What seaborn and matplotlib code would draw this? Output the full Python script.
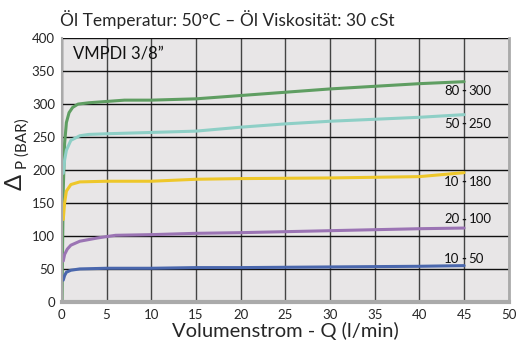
import numpy as np
import pandas as pd
import seaborn as sns
import matplotlib.pyplot as plt

q_80_300 = [0, 0.15, 0.3, 0.5, 0.8, 1.2, 1.8, 3, 5, 7, 10, 15, 20, 25, 30, 35, 40, 45]
p_80_300 = [0, 170, 240, 272, 287, 295, 300, 302, 304, 306, 306, 308, 313, 318, 323, 327, 331, 334]

q_50_250 = [0.15, 0.3, 0.5, 1, 2, 3, 5, 10, 15, 20, 25, 30, 35, 40, 45]
p_50_250 = [195, 215, 230, 245, 252, 254, 255, 257, 259, 265, 270, 274, 277, 280, 284]

q_10_180 = [0.15, 0.3, 0.5, 1, 2, 5, 10, 15, 20, 30, 40, 45]
p_10_180 = [125, 150, 168, 178, 182, 183, 183, 186, 187, 188, 190, 196]

q_20_100 = [0.15, 0.3, 0.6, 1, 2, 4, 6, 10, 15, 20, 30, 40, 45]
p_20_100 = [62, 72, 80, 86, 92, 97, 101, 102, 104, 105, 108, 111, 112]

q_10_50 = [0.15, 0.3, 0.5, 1, 2, 5, 10, 15, 20, 30, 40, 45]
p_10_50 = [33, 40, 45, 48, 50, 51, 51, 52, 52, 53, 54, 55]

series = ['80 - 300', '50 - 250', '10 - 180', '20 - 100', '10 - 50']
colors = ['#5f9e62', '#8ecfc6', '#eec72a', '#9b74b4', '#4a67ad']
qs = [q_80_300, q_50_250, q_10_180, q_20_100, q_10_50]
ps = [p_80_300, p_50_250, p_10_180, p_20_100, p_10_50]

df = pd.concat([pd.DataFrame({'Q': q, 'P': p, 'serie': s}) for q, p, s in zip(qs, ps, series)])

sns.set_style('white')
plt.rcParams['font.family'] = ['Lato', 'DejaVu Sans']

fig = plt.figure(figsize=(5.16, 3.47), dpi=100)
ax = fig.add_axes([0.120, 0.130, 0.866, 0.760])
ax.set_facecolor('#e8e6e7')

sns.lineplot(data=df, x='Q', y='P', hue='serie', palette=dict(zip(series, colors)),
             linewidth=2.2, legend=False, ax=ax, sort=False)

ax.set_xlim(0, 50)
ax.set_ylim(0, 400)
ax.set_xticks(np.arange(0, 51, 5))
ax.set_yticks(np.arange(0, 401, 50))
ax.grid(True, axis='y', color='#111111', linewidth=1)
ax.grid(True, axis='x', color='#444444', linewidth=1)
ax.set_axisbelow(True)
ax.tick_params(labelsize=9.5, length=3, width=0.8, color='#333333', pad=2)

ax.spines['top'].set_visible(False)
ax.spines['left'].set_color('#aaaaaa')
ax.spines['left'].set_linewidth(1.5)
ax.spines['right'].set_color('#aaaaaa')
ax.spines['right'].set_linewidth(2)
ax.spines['bottom'].set_color('#aaaaaa')
ax.spines['bottom'].set_linewidth(3)

# curve labels at the end, dash sitting on the 45 grid line
label_y = [320, 270, 182, 125, 65]
for s, y in zip(series, label_y):
    left, right = s.split(' - ')
    ax.text(44.5, y, left, ha='right', va='center', fontsize=9.5, color='#111111')
    ax.text(45, y, '-', ha='center', va='center', fontsize=9.5, fontweight='bold', color='#111111')
    ax.text(45.5, y, right, ha='left', va='center', fontsize=9.5, color='#111111')

ax.text(1.2, 377, 'VMPDI 3/8\u201d', fontsize=12, va='center', ha='left', color='#111111')

ax.set_xlabel('Volumenstrom - Q (l/min)', fontsize=14.5, labelpad=1)
ax.set_ylabel('')
fig.text(0.030, 0.475, '\u0394', fontsize=17, rotation=90, ha='center', va='center')
fig.text(0.044, 0.585, 'P (BAR)', fontsize=11, rotation=90, ha='center', va='center')
fig.text(0.116, 0.945, '\u00d6l Temperatur: 50\u00b0C \u2013 \u00d6l Viskosit\u00e4t: 30 cSt',
         fontsize=12.5, ha='left', va='center')

plt.savefig('out.png', dpi=100)
